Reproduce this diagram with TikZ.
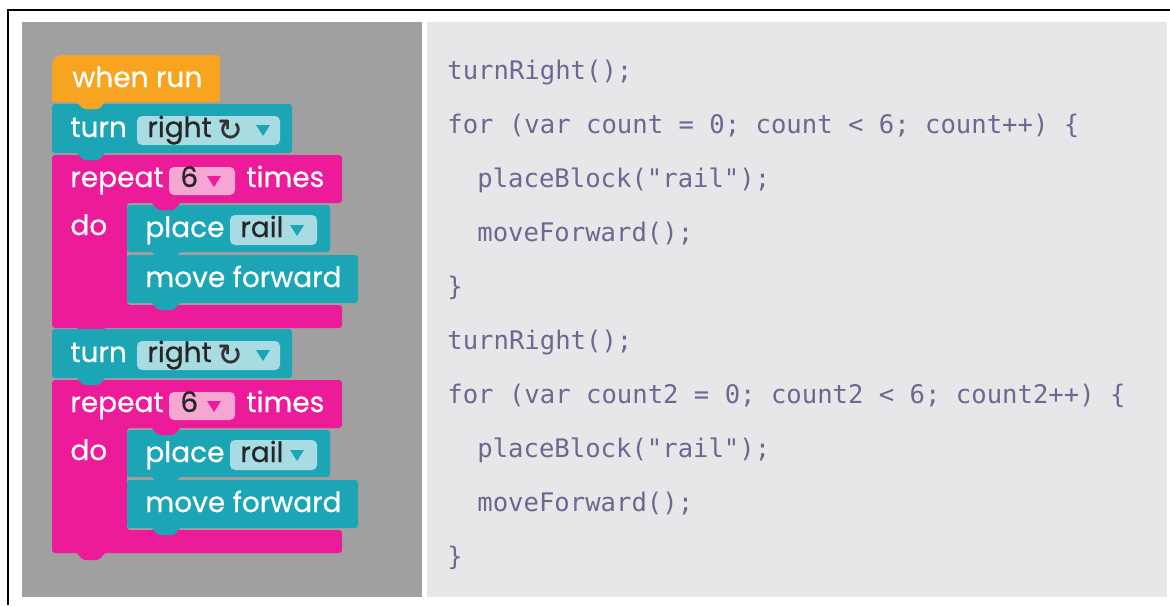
\documentclass[tikz,border=0pt]{standalone}
\usepackage{fontspec}
\setmainfont{Poppins}
\setmonofont{DejaVu Sans Mono}
\newfontfamily\blockfont[FakeBold=0.6]{Poppins}
\newfontfamily\symfont[FakeBold=0.8]{DejaVu Sans}
\definecolor{panelgray}{HTML}{A0A0A0}
\definecolor{codebg}{HTML}{E7E7EA}
\definecolor{codeink}{HTML}{6C6890}
\definecolor{runorange}{HTML}{F7A520}
\definecolor{blockteal}{HTML}{1CA6B5}
\definecolor{fieldteal}{HTML}{A8DCE2}
\definecolor{loopmagenta}{HTML}{EC1B9A}
\definecolor{fieldpink}{HTML}{F5A6D3}
\tikzset{
    blocktext/.style={text=white,font=\blockfont\fontsize{14}{16}\selectfont,inner sep=0pt,anchor=base west},
    fieldtext/.style={text=black!85,font=\blockfont\fontsize{14}{16}\selectfont,inner sep=0pt,anchor=base west},
    turnmark/.style={text=black!80,font=\symfont\fontsize{15}{16}\selectfont,inner sep=0pt},
    codeline/.style={text=codeink,font=\ttfamily\fontsize{12.8}{14}\selectfont,inner sep=0pt,anchor=base west},
    block/.style={rounded corners=1.5pt},
    field/.style={rounded corners=2.5pt},
    notch/.pic={\fill[rounded corners=1pt] (24,-1) -- (31,7) -- (47,7) -- (54,-1) -- cycle;},
    drop/.pic={\fill (-7,-5) -- (7,-5) -- (0,6) -- cycle;},
    }

\begin{document}
\begin{tikzpicture}[x=0.5pt,y=-0.5pt]
	\useasboundingbox (0,0) rectangle (1170,605);
	\fill[white] (0,0) rectangle (1170,605);
	\draw[line width=0.8pt] (8,605) -- (8,10) -- (1170,10);
	\fill[panelgray] (22,22) rectangle (422,597);
	\fill[codebg] (427,22) rectangle (1167,597);

	% first stack
	\fill[loopmagenta,block] (52,155) -- (342,155) -- (342,203) -- (127,203) -- (127,305) -- (342,305) -- (342,328) -- (52,328) -- cycle;
	\fill[runorange] (52,102) [rounded corners=5pt] -- (52,55) [rounded corners=1.5pt] -- (220,55) -- (220,102) -- cycle;
	\fill[blockteal,block] (52,104) rectangle (292,153);
	\fill[blockteal,block] (127,205) rectangle (330,252);
	\fill[blockteal,block] (127,255) rectangle (358,303);

	\pic[runorange] at (52,102) {notch};
	\pic[blockteal] at (52,153) {notch};
	\pic[loopmagenta] at (127,203) {notch};
	\pic[blockteal] at (127,252) {notch};
	\pic[blockteal] at (127,303) {notch};
	\pic[loopmagenta] at (52,328) {notch};

	\fill[fieldteal,field] (137,116) rectangle (280,145);
	\fill[fieldpink,field] (169,167) rectangle (235,195);
	\fill[fieldteal,field] (230,215) rectangle (317,245);

	\node[blocktext] (when) at (72,87) {when run};
	\node[blocktext] (turnA) at (70,137) {turn};
	\node[fieldtext] (dirA) at (147,137) {right};
	\node[turnmark] (rotA) at (230,130) {↻};
	\pic[blockteal] at (263,130) {drop};
	\node[blocktext] (repeatA) at (70,187) {repeat};
	\node[fieldtext] (countA) at (180,187) {6};
	\pic[loopmagenta] at (214,181) {drop};
	\node[blocktext] (timesA) at (246,187) {times};
	\node[blocktext] (doA) at (70,235) {do};
	\node[blocktext] (placeA) at (145,237) {place};
	\node[fieldtext] (itemA) at (240,237) {rail};
	\pic[blockteal] at (297,230) {drop};
	\node[blocktext] (moveA) at (145,287) {move forward};

	% second stack
	\fill[loopmagenta,block] (52,380) -- (342,380) -- (342,428) -- (127,428) -- (127,530) -- (342,530) -- (342,553) -- (52,553) -- cycle;
	\fill[blockteal,block] (52,329) rectangle (292,378);
	\fill[blockteal,block] (127,430) rectangle (330,477);
	\fill[blockteal,block] (127,480) rectangle (358,528);

	\pic[blockteal] at (52,378) {notch};
	\pic[loopmagenta] at (127,428) {notch};
	\pic[blockteal] at (127,477) {notch};
	\pic[blockteal] at (127,528) {notch};
	\pic[loopmagenta] at (52,553) {notch};

	\fill[fieldteal,field] (137,341) rectangle (280,370);
	\fill[fieldpink,field] (169,392) rectangle (235,420);
	\fill[fieldteal,field] (230,440) rectangle (317,470);

	\node[blocktext] (turnB) at (70,362) {turn};
	\node[fieldtext] (dirB) at (147,362) {right};
	\node[turnmark] (rotB) at (230,355) {↻};
	\pic[blockteal] at (263,355) {drop};
	\node[blocktext] (repeatB) at (70,412) {repeat};
	\node[fieldtext] (countB) at (180,412) {6};
	\pic[loopmagenta] at (214,406) {drop};
	\node[blocktext] (timesB) at (246,412) {times};
	\node[blocktext] (doB) at (70,460) {do};
	\node[blocktext] (placeB) at (145,462) {place};
	\node[fieldtext] (itemB) at (240,462) {rail};
	\pic[blockteal] at (297,455) {drop};
	\node[blocktext] (moveB) at (145,512) {move forward};

	% javascript
	\node[codeline] (codeA) at (447,79) {turnRight();};
	\node[codeline] (codeB) at (447,133) {for (var count = 0; count < 6; count++) \{};
	\node[codeline] (codeC) at (477,187) {placeBlock("rail");};
	\node[codeline] (codeD) at (477,241) {moveForward();};
	\node[codeline] (codeE) at (447,295) {\}};
	\node[codeline] (codeF) at (447,349) {turnRight();};
	\node[codeline] (codeG) at (447,403) {for (var count2 = 0; count2 < 6; count2++) \{};
	\node[codeline] (codeH) at (477,457) {placeBlock("rail");};
	\node[codeline] (codeI) at (477,511) {moveForward();};
	\node[codeline] (codeJ) at (447,565) {\}};
\end{tikzpicture}
\end{document}
